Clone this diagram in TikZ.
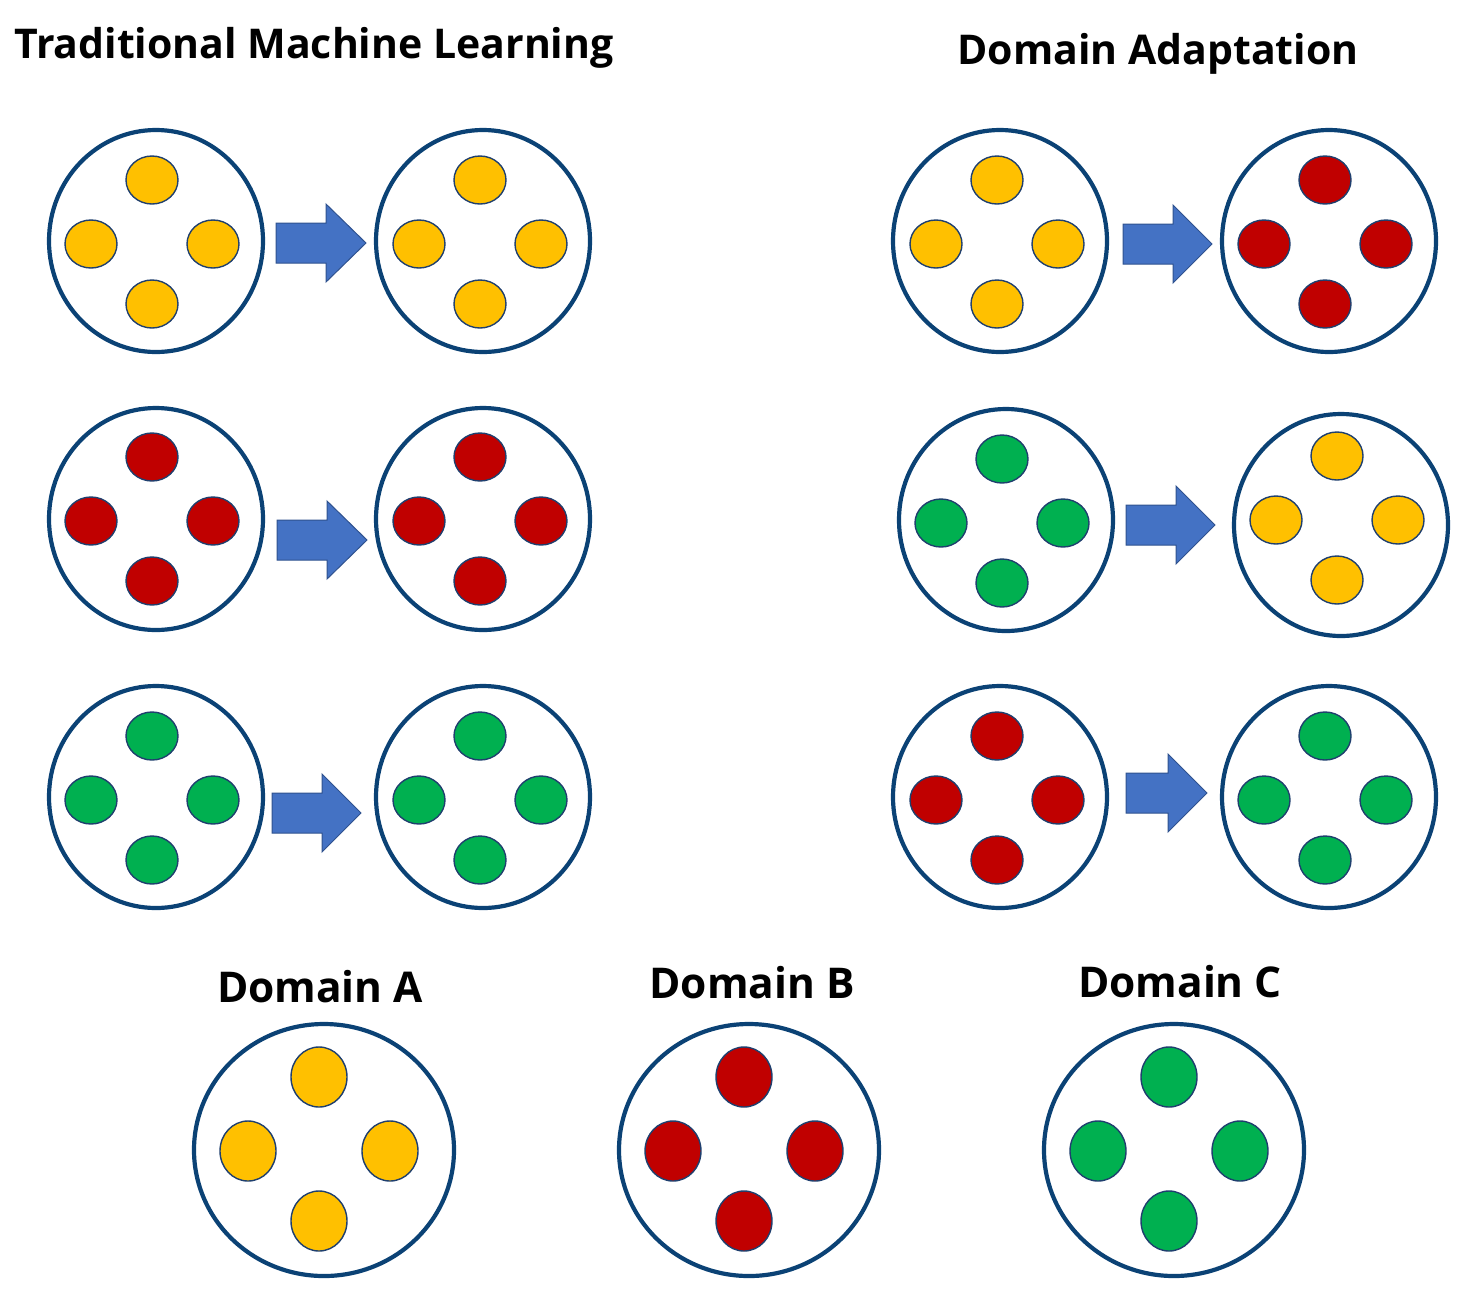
\documentclass[tikz,border=0pt]{standalone}
\usepackage{fontspec}
\setmainfont{Open Sans}
\usetikzlibrary{shapes.geometric}
\definecolor{ringblue}{HTML}{0B4275}
\definecolor{dotedge}{HTML}{1F3F6E}
\definecolor{cyellow}{HTML}{FFC000}
\definecolor{cred}{HTML}{C00000}
\definecolor{cgreen}{HTML}{00B050}
\definecolor{arrowfill}{HTML}{4472C4}
\definecolor{arrowedge}{HTML}{2F528F}
\tikzset{
  ring/.style={ellipse, draw=ringblue, line width=2.1pt, fill=white, inner sep=0pt},
  blob/.style={ellipse, draw=dotedge, line width=0.7pt, inner sep=0pt},
  blockarrow/.style={fill=arrowfill, draw=arrowedge, line width=0.5pt},
  heading/.style={font=\bfseries\fontsize{20.5}{24}\selectfont, anchor=base, inner sep=0pt},
  dlabel/.style={font=\bfseries\fontsize{21.2}{25}\selectfont, anchor=base, inner sep=0pt},
}
% ring: name, cx, cy, width px, height px
\newcommand\ring[5]{\node[ring, minimum width=#4*0.5pt, minimum height=#5*0.5pt] (#1) at (#2,#3) {};}
% blobs: name, qx, qy, colour, dx, dy, w px, h px
\newcommand\blobs[8]{%
  \node[blob, fill=#4, minimum width=#7*0.5pt, minimum height=#8*0.5pt] (#1t) at (#2,#3-#6) {};
  \node[blob, fill=#4, minimum width=#7*0.5pt, minimum height=#8*0.5pt] (#1b) at (#2,#3+#6) {};
  \node[blob, fill=#4, minimum width=#7*0.5pt, minimum height=#8*0.5pt] (#1l) at (#2-#5,#3+2) {};
  \node[blob, fill=#4, minimum width=#7*0.5pt, minimum height=#8*0.5pt] (#1r) at (#2+#5,#3+2) {};}
% arrow: x0, x1, xtip, y
\newcommand\barrow[4]{\draw[blockarrow] (#1,#4-20) -- (#2,#4-20) -- (#2,#4-39) -- (#3,#4) -- (#2,#4+39) -- (#2,#4+20) -- (#1,#4+20) -- cycle;}
\begin{document}
\begin{tikzpicture}[x=0.5pt,y=-0.5pt]
\useasboundingbox (0,0) rectangle (1467,1297);

% headings
\node[heading] (tml) at (314,58) {Traditional Machine Learning};
\node[heading] (da) at (1158,64) {Domain Adaptation};
\node[dlabel] (dA) at (320,1002) {Domain A};
\node[dlabel] (dB) at (752,998) {Domain B};
\node[dlabel] (dC) at (1180,997) {Domain C};

% traditional ML
\ring{L1a}{156}{241}{214}{222} \ring{L1b}{483}{241}{214}{222}
\blobs{l1a}{152}{242}{cyellow}{61}{62}{52}{48}
\blobs{l1b}{480}{242}{cyellow}{61}{62}{52}{48}
\barrow{276}{326}{366}{243}

\ring{L2a}{156}{519}{214}{222} \ring{L2b}{483}{519}{214}{222}
\blobs{l2a}{152}{519}{cred}{61}{62}{52}{48}
\blobs{l2b}{480}{519}{cred}{61}{62}{52}{48}
\barrow{277}{327}{367}{540}

\ring{L3a}{156}{797}{214}{222} \ring{L3b}{483}{797}{214}{222}
\blobs{l3a}{152}{798}{cgreen}{61}{62}{52}{48}
\blobs{l3b}{480}{798}{cgreen}{61}{62}{52}{48}
\barrow{272}{322}{361}{813}

% domain adaptation
\ring{R1a}{1000}{241}{214}{222} \ring{R1b}{1329}{241}{214}{222}
\blobs{r1a}{997}{242}{cyellow}{61}{62}{52}{48}
\blobs{r1b}{1325}{242}{cred}{61}{62}{52}{48}
\barrow{1123}{1173}{1212}{244}

\ring{R2a}{1006}{520}{214}{222} \ring{R2b}{1341}{525}{214}{222}
\blobs{r2a}{1002}{521}{cgreen}{61}{62}{52}{48}
\blobs{r2b}{1337}{518}{cyellow}{61}{62}{52}{48}
\barrow{1126}{1176}{1215}{525}

\ring{R3a}{1000}{797}{214}{222} \ring{R3b}{1329}{797}{214}{222}
\blobs{r3a}{997}{798}{cred}{61}{62}{52}{48}
\blobs{r3b}{1325}{798}{cgreen}{61}{62}{52}{48}
\barrow{1126}{1168}{1207}{793}

% domains
\ring{DA}{324}{1150}{260}{252}
\blobs{da}{319}{1149}{cyellow}{71}{72}{56}{60}
\ring{DB}{749}{1150}{260}{252}
\blobs{db}{744}{1149}{cred}{71}{72}{56}{60}
\ring{DC}{1174}{1150}{260}{252}
\blobs{dc}{1169}{1149}{cgreen}{71}{72}{56}{60}
\end{tikzpicture}
\end{document}
